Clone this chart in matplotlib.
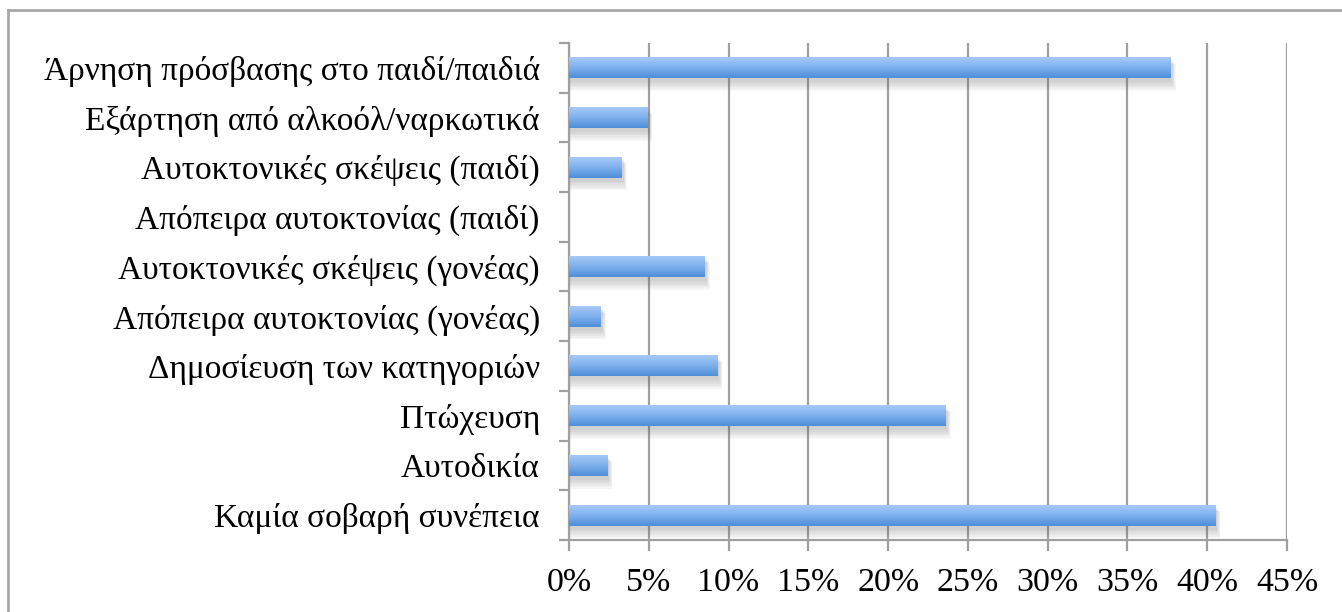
import matplotlib
matplotlib.use("Agg")
import matplotlib.pyplot as plt
import numpy as np
from matplotlib.patches import Rectangle
from matplotlib.lines import Line2D
from matplotlib.colors import LinearSegmentedColormap

categories = ["Άρνηση πρόσβασης στο παιδί/παιδιά",
              "Εξάρτηση από αλκοόλ/ναρκωτικά",
              "Αυτοκτονικές σκέψεις (παιδί)",
              "Απόπειρα αυτοκτονίας (παιδί)",
              "Αυτοκτονικές σκέψεις (γονέας)",
              "Απόπειρα αυτοκτονίας (γονέας)",
              "Δημοσίευση των κατηγοριών",
              "Πτώχευση",
              "Αυτοδικία",
              "Καμία σοβαρή συνέπεια"]
values = [37.7, 4.9, 3.3, 0.0, 8.5, 2.0, 9.3, 23.6, 2.4, 40.5]
xticks = [0, 5, 10, 15, 20, 25, 30, 35, 40, 45]

plt.rcParams['font.family'] = ['Liberation Serif', 'DejaVu Serif']

fig = plt.figure(figsize=(13.42, 6.12), dpi=100)
ax = fig.add_axes([569/1342, 1-540/612, (1287-569)/1342, (540-43)/612])

grad = LinearSegmentedColormap.from_list("bar", ["#a6c9f8", "#7eb0ee", "#4e8fd8"])
gimg = np.linspace(0, 1, 64).reshape(-1, 1)
h = 0.42

for i, v in enumerate(values):
    if v <= 0:
        continue
    # soft shadow
    for k in range(6):
        ax.add_patch(Rectangle((0, i - h/2 + 0.06 + k*0.015), v + 0.12 + k*0.04, h + 0.02 + k*0.02,
                               facecolor="#606060", edgecolor="none", alpha=0.05, zorder=2))
    ax.imshow(gimg, cmap=grad, aspect="auto", extent=[0, v, i + h/2, i - h/2],
              origin="upper", zorder=3, interpolation="bilinear")

ax.set_xlim(0, 45)
ax.set_ylim(len(categories) - 0.5, -0.5)

ax.set_xticks(xticks)
ax.set_xticklabels([f"{t}%" for t in xticks])
ax.set_yticks(range(len(categories)))
ax.set_yticklabels(categories)
ax.set_yticks(np.arange(-0.5, len(categories)), minor=True)

gc = "#a0a0a0"
ax.grid(axis="x", color=gc, linewidth=1.6, zorder=1)
ax.set_axisbelow(True)
for s in ["top", "right"]:
    ax.spines[s].set_visible(False)
for s in ["left", "bottom"]:
    ax.spines[s].set_color(gc)
    ax.spines[s].set_linewidth(1.6)

ax.tick_params(axis="y", which="major", length=0, pad=21, labelsize=24)
ax.tick_params(axis="y", which="minor", length=7, width=1.6, color=gc)
ax.tick_params(axis="x", length=8, width=1.6, color=gc, pad=12, labelsize=24.5)

# outer chart border
fig.add_artist(Line2D([8/1342, 8/1342], [0, 1-10/612], color="#a8a8a8", linewidth=2))
fig.add_artist(Line2D([8/1342, 1], [1-10/612, 1-10/612], color="#a8a8a8", linewidth=2))

fig.savefig("out.png", dpi=100)
